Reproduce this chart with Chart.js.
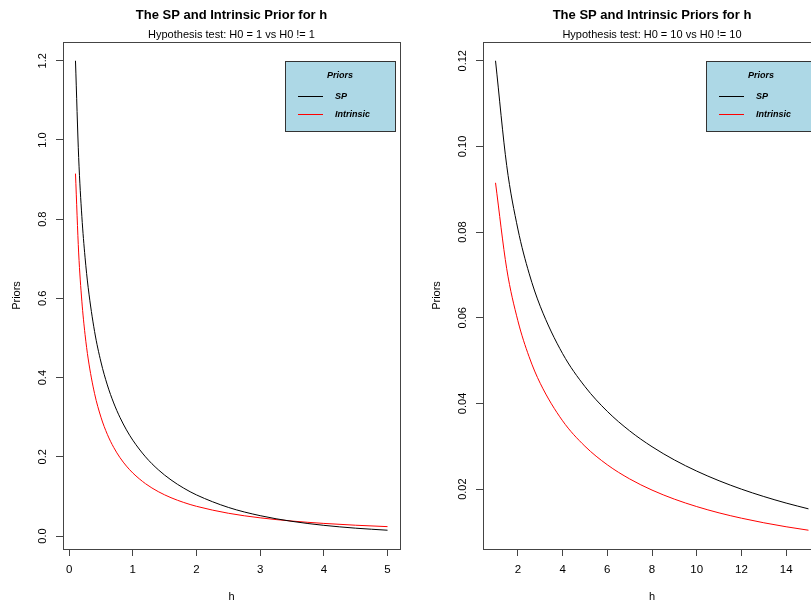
<!DOCTYPE html>
<html>
<head>
<meta charset="utf-8">
<script src="https://cdn.jsdelivr.net/npm/chart.js@4.4.1/dist/chart.umd.min.js"></script>
<style>
  html, body { margin: 0; padding: 0; background: #fff; }
  #wrap { position: relative; width: 811px; height: 603px; overflow: hidden; }
  canvas { position: absolute; top: 0; }
</style>
</head>
<body>
<div id="wrap">
  <canvas id="leftChart" width="405" height="603" style="left:0"></canvas>
  <canvas id="rightChart" width="421" height="603" style="left:405px"></canvas>
</div>
<script>
// left panel: H0 = 1
const hLeft = [0.1, 0.15, 0.2, 0.25, 0.3, 0.4, 0.5, 0.6, 0.7, 0.8, 0.9, 1.0, 1.2, 1.4, 1.6, 1.8, 2.0, 2.5, 3.0, 3.5, 4.0, 4.5, 5.0];
const spLeft = [1.2000, 0.9557, 0.8072, 0.7041, 0.6269, 0.5164, 0.4394, 0.3815, 0.3360, 0.2990, 0.2681, 0.2420, 0.1999, 0.1674, 0.1417, 0.1209, 0.1038, 0.07229, 0.05139, 0.03706, 0.02700, 0.01982, 0.01465];
const intrinsicLeft = [0.9151, 0.7147, 0.5931, 0.5093, 0.4470, 0.3595, 0.3001, 0.2568, 0.2238, 0.1977, 0.1766, 0.1592, 0.1321, 0.1121, 0.09679, 0.08473, 0.07503, 0.05752, 0.04594, 0.03781, 0.03183, 0.02728, 0.02373];
const xTicksLeft = ['0', '1', '2', '3', '4', '5'];
const yTicksLeft = ['0.0', '0.2', '0.4', '0.6', '0.8', '1.0', '1.2'];

// right panel: H0 = 10
const hRight = [1, 1.5, 2, 2.5, 3, 4, 5, 6, 7, 8, 9, 10, 11, 12, 13, 14, 15];
const spRight = [0.1200, 0.09557, 0.08072, 0.07041, 0.06269, 0.05164, 0.04394, 0.03815, 0.03360, 0.02990, 0.02681, 0.02420, 0.02195, 0.01999, 0.01827, 0.01674, 0.01539];
const intrinsicRight = [0.09151, 0.07147, 0.05931, 0.05093, 0.04470, 0.03595, 0.03001, 0.02568, 0.02238, 0.01977, 0.01766, 0.01592, 0.01445, 0.01321, 0.01214, 0.01121, 0.01040];
const xTicksRight = ['2', '4', '6', '8', '10', '12', '14'];
const yTicksRight = ['0.02', '0.04', '0.06', '0.08', '0.10', '0.12'];

const seriesNames = ['SP', 'Intrinsic'];
const seriesColors = ['#000000', '#ff0000'];

const FONT = '"Liberation Sans", Arial, Helvetica, sans-serif';

// R style range: data range padded by 4% each side
function rRange(vals) {
  const lo = Math.min(...vals), hi = Math.max(...vals);
  const d = (hi - lo) * 0.04;
  return [lo - d, hi + d];
}

// box, tick labels, titles and legend drawn the way base R does it
const rPlot = {
  id: 'rPlot',
  afterDraw(chart, args, o) {
    const { ctx, chartArea: a, scales: { x, y } } = chart;
    ctx.save();
    ctx.strokeStyle = '#444';
    ctx.lineWidth = 1;
    ctx.strokeRect(Math.round(a.left) + 0.5, Math.round(a.top) + 0.5, Math.round(a.right - a.left), Math.round(a.bottom - a.top));

    const cx = (a.left + a.right) / 2;
    const cy = (a.top + a.bottom) / 2;
    ctx.fillStyle = '#000';
    ctx.textAlign = 'center';
    ctx.textBaseline = 'middle';

    // x tick labels
    ctx.font = '11.5px ' + FONT;
    o.xTicks.forEach(t => ctx.fillText(t, x.getPixelForValue(Number(t)), a.bottom + 21));
    // y tick labels, rotated like las = 0
    ctx.font = '11px ' + FONT;
    o.yTicks.forEach(t => {
      ctx.save();
      ctx.translate(a.left - 20, y.getPixelForValue(Number(t)));
      ctx.rotate(-Math.PI / 2);
      ctx.fillText(t, 0, 0);
      ctx.restore();
    });

    // axis titles
    ctx.fillText('h', cx, a.bottom + 48);
    ctx.save();
    ctx.translate(a.left - 46, cy);
    ctx.rotate(-Math.PI / 2);
    ctx.fillText('Priors', 0, 0);
    ctx.restore();

    // main title + subtitle
    ctx.font = 'bold 13px ' + FONT;
    ctx.fillText(o.title, cx, 15);
    ctx.font = '11px ' + FONT;
    ctx.fillText(o.subtitle, cx, 35);

    // legend box
    const lx = a.right - 115, ly = a.top + 19;
    ctx.fillStyle = '#add8e6';
    ctx.fillRect(lx, ly, 110, 70);
    ctx.strokeStyle = '#333';
    ctx.strokeRect(Math.round(lx) + 0.5, ly + 0.5, 110, 70);
    ctx.fillStyle = '#000';
    ctx.font = 'italic bold 9px ' + FONT;
    ctx.fillText('Priors', lx + 55, ly + 15);
    ctx.textAlign = 'left';
    seriesNames.forEach((name, i) => {
      const yy = ly + 35.5 + i * 18;
      ctx.strokeStyle = seriesColors[i];
      ctx.beginPath();
      ctx.moveTo(lx + 13, yy);
      ctx.lineTo(lx + 38, yy);
      ctx.stroke();
      ctx.fillText(name, lx + 50, yy);
    });
    ctx.restore();
  }
};

function makeChart(id, hs, sp, intr, xTicks, yTicks, title, subtitle, yWidth) {
  const [xmin, xmax] = rRange(hs);
  const [ymin, ymax] = rRange(sp.concat(intr));
  const axisGrid = { drawOnChartArea: false, drawTicks: true, tickLength: 7, color: '#444', lineWidth: 1 };
  return new Chart(document.getElementById(id).getContext('2d'), {
    type: 'line',
    data: {
      datasets: [sp, intr].map((vals, i) => ({
        label: seriesNames[i],
        data: hs.map((h, j) => ({ x: h, y: vals[j] })),
        borderColor: seriesColors[i],
        borderWidth: 1,
        pointRadius: 0,
        fill: false,
        cubicInterpolationMode: 'monotone'
      }))
    },
    options: {
      responsive: false,
      animation: false,
      layout: { padding: { top: 42, left: 0, right: 5, bottom: 0 } },
      plugins: {
        legend: { display: false },
        tooltip: { enabled: false },
        rPlot: { title: title, subtitle: subtitle, xTicks: xTicks, yTicks: yTicks }
      },
      scales: {
        x: {
          type: 'linear', min: xmin, max: xmax,
          grid: axisGrid,
          border: { display: false },
          ticks: { display: false },
          afterBuildTicks: s => { s.ticks = xTicks.map(t => ({ value: Number(t) })); },
          afterFit: s => { s.height = 54; }
        },
        y: {
          type: 'linear', min: ymin, max: ymax,
          grid: axisGrid,
          border: { display: false },
          ticks: { display: false },
          afterBuildTicks: s => { s.ticks = yTicks.map(t => ({ value: Number(t) })); },
          afterFit: s => { s.width = yWidth; }
        }
      }
    },
    plugins: [rPlot]
  });
}

makeChart('leftChart', hLeft, spLeft, intrinsicLeft, xTicksLeft, yTicksLeft,
  'The SP and Intrinsic Prior for h', 'Hypothesis test: H0 = 1 vs H0 != 1', 63);
makeChart('rightChart', hRight, spRight, intrinsicRight, xTicksRight, yTicksRight,
  'The SP and Intrinsic Priors for h', 'Hypothesis test: H0 = 10 vs H0 != 10', 78);
</script>
</body>
</html>
